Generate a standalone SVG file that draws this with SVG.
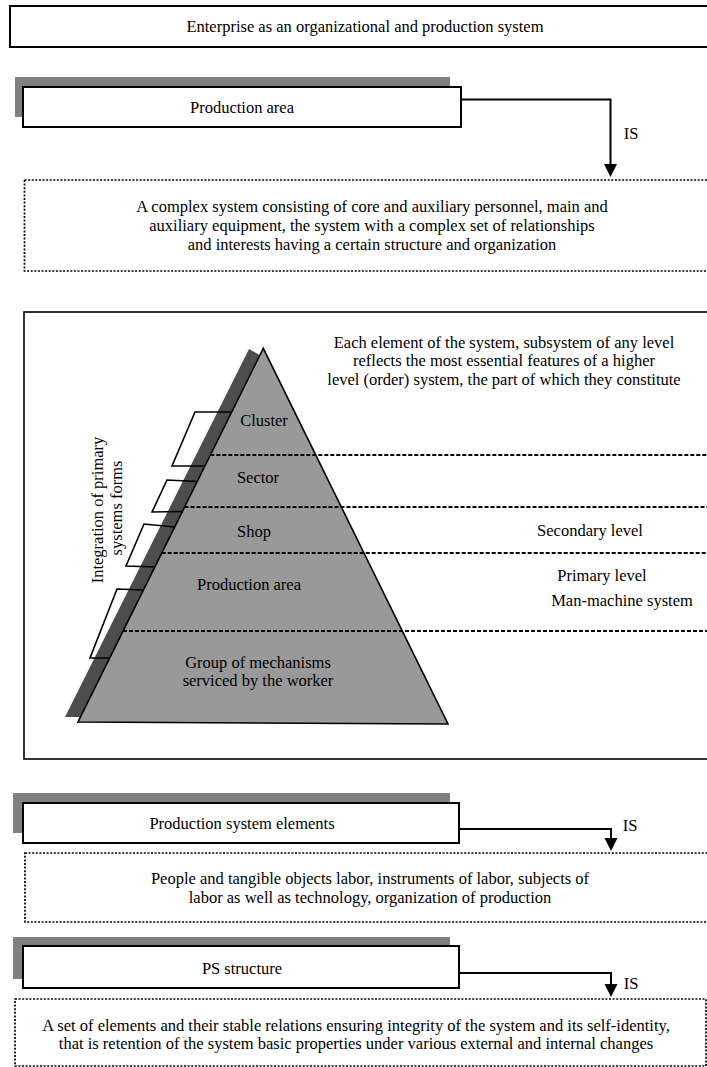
<svg xmlns="http://www.w3.org/2000/svg" width="707" height="1067" viewBox="0 0 707 1067">
  <style>
    text { font-family: "Liberation Serif", "Times New Roman", serif; font-size: 16.5px; fill: #000; }
    .c { text-anchor: middle; }
    .box { fill: #fff; stroke: #000; stroke-width: 2; }
    .shadow { fill: #808080; }
    .dot { fill: none; stroke: #000; stroke-width: 1.7; stroke-dasharray: 2 1.6; }
    .dash { fill: none; stroke: #000; stroke-width: 2; stroke-dasharray: 4 2; }
    .conn { fill: none; stroke: #000; stroke-width: 2; }
    .brk { fill: none; stroke: #000; stroke-width: 1.6; }
  </style>
  <defs>
    <marker id="arrow" markerUnits="userSpaceOnUse" markerWidth="14" markerHeight="14" refX="0" refY="6.5" orient="auto">
      <path d="M0,0 L13,6.5 L0,13 Z" fill="#000"/>
    </marker>
  </defs>
  <rect width="707" height="1067" fill="#fff"/>

  <g id="enterprise">
    <rect class="box" x="10" y="6" width="720" height="41"/>
    <text class="c" x="365" y="32">Enterprise as an organizational and production system</text>
  </g>

  <g id="production-area">
    <rect class="shadow" x="15" y="77" width="435" height="40"/>
    <rect class="box" x="23" y="87" width="438" height="40"/>
    <text class="c" x="242" y="113">Production area</text>
  </g>

  <g id="production-area-def">
    <rect class="dot" x="24.5" y="180" width="720" height="91"/>
    <text class="c" x="372" y="211.5">A complex system consisting of core and auxiliary personnel, main and</text>
    <text class="c" x="372" y="230.5">auxiliary equipment, the system with a complex set of relationships</text>
    <text class="c" x="372" y="249.5">and interests having a certain structure and organization</text>
  </g>

  <g id="hierarchy">
    <rect x="24" y="312" width="720" height="447" fill="#fff" stroke="#000" stroke-width="1.6"/>
    <text class="c" x="504" y="347.5">Each element of the system, subsystem of any level</text>
    <text class="c" x="504" y="366">reflects the most essential features  of a higher</text>
    <text class="c" x="504" y="384.5">level (order) system, the part of which they constitute</text>
    <polygon points="249,349 259.5,355 80.5,717 65,717" fill="#4d4d4d"/>
    <polygon points="263.3,348.3 78,722 448,724" fill="#999999" stroke="#000" stroke-width="1.6" stroke-linejoin="miter"/>
    <polyline class="brk" points="232,412 195,412 172,466 205,466"/>
    <polyline class="brk" points="197.5,481.5 167,480 152,512 182.5,511.5"/>
    <polyline class="brk" points="174.7,527 144,524 126,566 155,567"/>
    <polyline class="brk" points="143.4,590 117,589 90,658 109.7,658"/>
    <line class="dash" x1="210.3" y1="455" x2="707" y2="455"/>
    <line class="dash" x1="184.5" y1="507" x2="707" y2="507"/>
    <line class="dash" x1="161.7" y1="553" x2="707" y2="553"/>
    <line class="dash" x1="123" y1="631" x2="707" y2="631"/>
    <text class="c" x="264" y="425.5">Cluster</text>
    <text class="c" x="258" y="482.5">Sector</text>
    <text class="c" x="254" y="536.5">Shop</text>
    <text class="c" x="249" y="589.5">Production area</text>
    <text class="c" x="258" y="667.5">Group of mechanisms</text>
    <text class="c" x="258" y="685.5">serviced by the worker</text>
    <text class="c" x="590" y="535.5">Secondary level</text>
    <text class="c" x="602" y="580.5">Primary level</text>
    <text class="c" x="622" y="605.5">Man-machine system</text>
    <text class="c" transform="translate(102.5,510) rotate(-90)">Integration of primary</text>
    <text class="c" transform="translate(122,508) rotate(-90)">systems forms</text>
  </g>

  <g id="ps-elements">
    <rect class="shadow" x="13" y="793" width="437" height="40"/>
    <rect class="box" x="23" y="803" width="436" height="40"/>
    <text class="c" x="242" y="828.5">Production system elements</text>
  </g>

  <g id="ps-elements-def">
    <rect class="dot" x="25" y="853" width="720" height="69"/>
    <text class="c" x="370" y="883.5">People and tangible objects labor, instruments of labor, subjects of</text>
    <text class="c" x="370" y="902.5">labor as well as technology, organization of production</text>
  </g>

  <g id="ps-structure">
    <rect class="shadow" x="13" y="937" width="437" height="42"/>
    <rect class="box" x="23" y="946" width="436" height="42"/>
    <text class="c" x="242" y="973.5">PS structure</text>
  </g>

  <g id="ps-structure-def">
    <rect class="dot" x="15" y="999" width="691" height="67"/>
    <text class="c" x="356" y="1030.5">A set of elements and their stable relations ensuring integrity of the system and its self-identity,</text>
    <text class="c" x="356" y="1048.5">that is retention of the system basic properties under various external and internal changes</text>
  </g>

  <g id="connectors">
    <path class="conn" d="M461,99.5 H610.5 V164" marker-end="url(#arrow)"/>
    <text class="c" x="631" y="138.5">IS</text>
    <path class="conn" d="M459,829 H611 V838" marker-end="url(#arrow)"/>
    <text class="c" x="630" y="831">IS</text>
    <path class="conn" d="M459,973 H611 V984" marker-end="url(#arrow)"/>
    <text class="c" x="631" y="988.5">IS</text>
  </g>
</svg>
